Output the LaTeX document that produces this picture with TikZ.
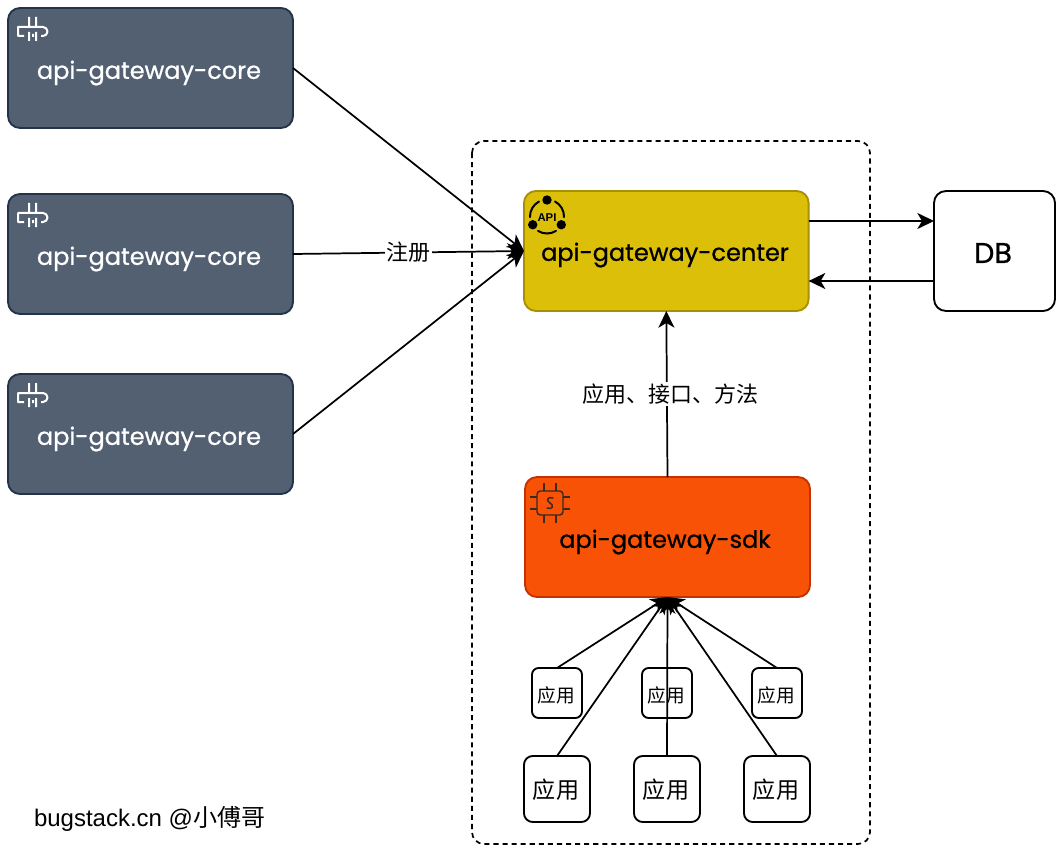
\documentclass[tikz,border=0pt]{standalone}
\usepackage{fontspec}
\setmainfont{Liberation Sans}
\newfontfamily\titlefont[FakeBold=0.8]{Poppins}
\newfontfamily\cjk{Noto Sans CJK SC}
\usetikzlibrary{arrows.meta}
\definecolor{corefill}{HTML}{536072}
\definecolor{coreline}{HTML}{23344A}
\definecolor{centerfill}{HTML}{DBBF08}
\definecolor{centerline}{HTML}{A88F04}
\definecolor{sdkfill}{HTML}{F75205}
\definecolor{sdkline}{HTML}{C23203}
\definecolor{chipline}{HTML}{3A2A20}
\tikzset{
  x=0.75pt,y=-0.75pt,
  every node/.style={inner sep=0pt,outer sep=0pt},
  boxbase/.style={draw,rounded corners=9pt,line width=1.4pt},
  corebox/.style={boxbase,fill=corefill,draw=coreline,minimum width=213.75pt,minimum height=90pt},
  centerbox/.style={boxbase,fill=centerfill,draw=centerline,minimum width=213.5pt,minimum height=90pt},
  sdkbox/.style={boxbase,fill=sdkfill,draw=sdkline,minimum width=213.75pt,minimum height=90pt},
  dbbox/.style={boxbase,fill=white,draw=black,minimum width=90.75pt,minimum height=90pt},
  smallbox/.style={boxbase,rounded corners=5pt,fill=white,draw=black,minimum width=37.5pt,minimum height=37.5pt},
  bigbox/.style={boxbase,rounded corners=6.5pt,fill=white,draw=black,minimum width=49.5pt,minimum height=49.5pt},
  titlelabel/.style={font=\titlefont\fontsize{18}{20}\selectfont},
  dblabel/.style={font=\titlefont\fontsize{21.5}{24}\selectfont},
  cnbig/.style={font=\cjk\fontsize{17.3}{18}\selectfont},
  cnsmall/.style={font=\cjk\fontsize{14}{16}\selectfont},
  cnlabel/.style={font=\cjk\fontsize{16.5}{18}\selectfont},
  conn/.style={draw=black,line width=1.3pt,-{Stealth[length=12.5pt,width=12pt,inset=3.5pt]}},
  gwicon/.pic={
    \draw[white,line width=1.5pt,line join=round]
      (-2,6) -- (-14,6) -- (-14,15) -- (-8,15)
      (-2,6) -- (11,6) arc[start angle=-90,end angle=90,radius=4.5] -- (9,15)
      (-3,-4) -- (-3,6) (4,-4) -- (4,6) (-3,11) -- (-3,20) (1,13) -- (1,16) (4,11) -- (4,20);
  },
  chipicon/.pic={
    \draw[chipline,line width=1.1pt,rounded corners=2.5pt] (-13,-12) rectangle (13,12);
    \foreach \q in {-6,6}{
      \draw[chipline,line width=1.1pt] (\q,-12) -- (\q,-20) (\q,12) -- (\q,20) (-13,\q) -- (-20,\q) (13,\q) -- (20,\q);
    }
    \draw[chipline,line width=1.1pt,line cap=round] (3,-5) .. controls (-3,-7) and (-4,-2) .. (0,0) .. controls (4,2) and (3,7) .. (-3,5);
  },
  apiicon/.pic={
    \foreach \a in {-90,30,150}{\fill[black] (\a:16.5) circle[radius=4.7];}
    \foreach \a in {-90,30,150}{\draw[black,line width=1.5pt,line cap=round] (\a+28:17) arc[start angle=\a+28,end angle=\a+92,radius=17];}
    \node[font=\bfseries\fontsize{8.5}{9}\selectfont] (apitext) at (0,1) {API};
  }
}
\begin{document}
\begin{tikzpicture}
\useasboundingbox (0,0) rectangle (1062,852);
\fill[white] (0,0) rectangle (1062,852);
\draw[black,line width=1.3pt,rounded corners=9pt,dash pattern=on 3.8pt off 3pt] (472,141) rectangle (870,844);

\node[corebox] (core1) at (150.5,68) {};
\node[corebox] (core2) at (150.5,254) {};
\node[corebox] (core3) at (150.5,434) {};
\node[centerbox] (center) at (666.3,251) {};
\node[sdkbox] (sdk) at (667.5,537) {};
\node[dbbox] (db) at (994.5,251) {};
\node[smallbox] (s1) at (557,693) {};
\node[smallbox] (s2) at (667,693) {};
\node[smallbox] (s3) at (777,693) {};
\node[bigbox] (b1) at (557,789) {};
\node[bigbox] (b2) at (667,789) {};
\node[bigbox] (b3) at (777,789) {};

\node[titlelabel,text=white] (t1) at (149,73) {api-gateway-core};
\node[titlelabel,text=white] (t2) at (149,259) {api-gateway-core};
\node[titlelabel,text=white] (t3) at (149,439) {api-gateway-core};
\node[titlelabel] (t4) at (665,255) {api-gateway-center};
\node[titlelabel] (t5) at (665,542) {api-gateway-sdk};
\node[dblabel] (t6) at (993,253) {DB};
\node[cnsmall] (ts1) at (556,695) {应用};
\node[cnsmall] (ts2) at (666,695) {应用};
\node[cnsmall] (ts3) at (776,695) {应用};
\node[cnbig] (tb1) at (556,790) {应用};
\node[cnbig] (tb2) at (666,790) {应用};
\node[cnbig] (tb3) at (776,790) {应用};

\pic at (32,21) {gwicon};
\pic at (32,207) {gwicon};
\pic at (32,387) {gwicon};
\pic at (547,216.5) {apiicon};
\pic at (550,503) {chipicon};

\draw[conn] (core1.east) -- (center.west);
\draw[conn] (core2.east) -- node[fill=white,cnlabel,inner sep=1pt] (reg) {注册} (center.west);
\draw[conn] (core3.east) -- (center.west);
\draw[conn] ([yshift=22.5pt]center.east) -- ([yshift=22.5pt]db.west);
\draw[conn] ([yshift=-22.5pt]db.west) -- ([yshift=-22.5pt]center.east);
\draw[conn] (sdk.north) -- node[fill=white,cnlabel,inner sep=1pt,pos=0.5,xshift=2.5pt] (api) {应用、接口、方法} (center.south);
\draw[conn] (s1.north) -- (sdk.south);
\draw[conn] (s3.north) -- (sdk.south);
\draw[conn] (b1.north) -- (sdk.south);
\draw[conn] (b2.north) -- (sdk.south);
\draw[conn] (b3.north) -- (sdk.south);

\node[anchor=west,font=\fontsize{18}{20}\selectfont] (foot) at (34,819) {bugstack.cn @{\cjk 小傅哥}};
\end{tikzpicture}
\end{document}
